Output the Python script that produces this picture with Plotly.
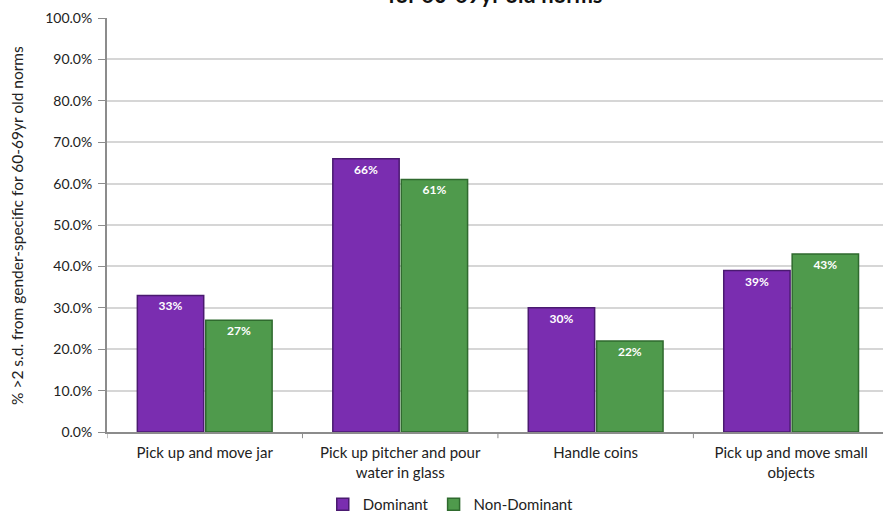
import plotly.graph_objects as go

# Task categories (x axis)
categories = [
    "Pick up and move jar",
    "Pick up pitcher and pour<br>water in glass",
    "Handle coins",
    "Pick up and move small<br>objects",
]

# Share of participants beyond 2 s.d. of the gender-specific norms
dominant = [0.33, 0.66, 0.30, 0.39]
non_dominant = [0.27, 0.61, 0.22, 0.43]

y_ticks = [0.0, 0.1, 0.2, 0.3, 0.4, 0.5, 0.6, 0.7, 0.8, 0.9, 1.0]
y_tick_labels = [f"{v * 100:.1f}%" for v in y_ticks]

FONT = "Lato, 'Open Sans', sans-serif"

fig = go.Figure()
fig.add_trace(go.Bar(
    name="Dominant",
    x=categories,
    y=dominant,
    marker=dict(color="#7a2db0", line=dict(color="#4a1a70", width=1.5)),
    text=[f"{v:.0%}" for v in dominant],
    textposition="inside",
    insidetextanchor="end",
    textangle=0,
    textfont=dict(color="white", size=12, family=FONT, weight="bold"),
))
fig.add_trace(go.Bar(
    name="Non-Dominant",
    x=categories,
    y=non_dominant,
    marker=dict(color="#4f9a4c", line=dict(color="#2f6a2e", width=1.5)),
    text=[f"{v:.0%}" for v in non_dominant],
    textposition="inside",
    insidetextanchor="end",
    textangle=0,
    textfont=dict(color="white", size=12, family=FONT, weight="bold"),
))

fig.update_layout(
    width=883,
    height=514,
    margin=dict(l=107, r=0, t=18, b=82, autoexpand=False),
    paper_bgcolor="white",
    plot_bgcolor="white",
    barmode="group",
    bargap=0.3,
    bargroupgap=0.03,
    font=dict(family=FONT, size=14, color="#222222"),
    showlegend=True,
    legend=dict(
        orientation="h",
        x=0.443,
        xanchor="center",
        y=-0.135,
        yanchor="top",
        font=dict(size=15, color="#222222"),
        itemwidth=30,
        traceorder="normal",
    ),
    uniformtext=dict(minsize=12, mode="show"),
)

fig.update_xaxes(
    range=[-0.5, 3.47],
    showline=True,
    linecolor="#8c8c8c",
    linewidth=2,
    ticks="",
    tickangle=0,
    showgrid=False,
    automargin=False,
    ticklabelstandoff=6,
    tickfont=dict(size=15, color="#222222"),
)
# Separator ticks between the category groups
for i in range(4):
    fig.add_shape(
        type="line", xref="x", yref="paper",
        x0=i - 0.5, x1=i - 0.5, y0=0, y1=-0.015,
        line=dict(color="#8c8c8c", width=1),
    )

fig.update_yaxes(
    range=[0, 1.0],
    tickvals=y_ticks,
    ticktext=y_tick_labels,
    showline=True,
    linecolor="#8c8c8c",
    linewidth=2,
    ticks="outside",
    ticklen=7,
    tickcolor="#8c8c8c",
    showgrid=True,
    gridcolor="#d6d6d6",
    gridwidth=1.5,
    zeroline=False,
    automargin=False,
    ticklabelstandoff=3,
    tickfont=dict(size=14, color="#222222"),
)

# Y axis title, placed near the left page edge
fig.add_annotation(
    text="% >2 s.d. from gender-specific for 60-69yr old norms",
    xref="paper", yref="paper",
    x=-0.116, y=0.5,
    xanchor="center", yanchor="middle",
    textangle=-90,
    showarrow=False,
    font=dict(size=15.5, color="#222222", family=FONT),
)

# Chart title (upper part sits above the page edge)
fig.add_annotation(
    text="<b>for 60-69yr old norms</b>",
    xref="paper", yref="paper",
    x=0.5, y=1.0,
    xanchor="center", yanchor="bottom",
    yshift=8,
    showarrow=False,
    font=dict(size=22, color="#111111", family=FONT),
)

fig.write_html("out.html")
